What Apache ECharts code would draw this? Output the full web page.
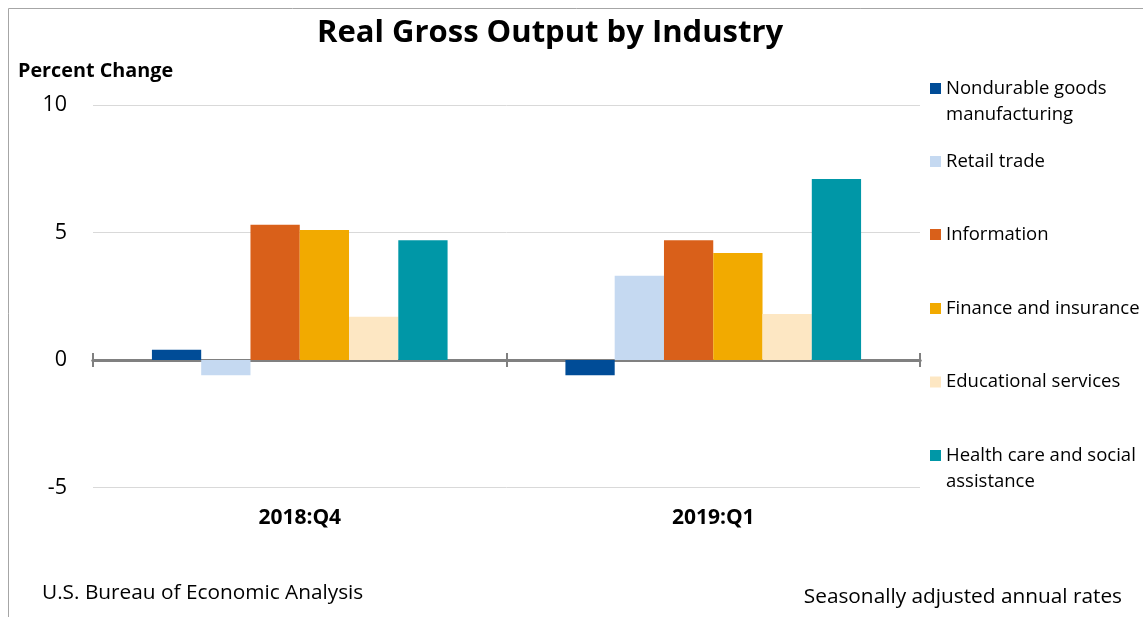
<!DOCTYPE html>
<html>
<head>
<meta charset="utf-8">
<script src="https://cdn.jsdelivr.net/npm/echarts@6/dist/echarts.min.js"></script>
<style>html,body{margin:0;padding:0;background:#fff}#c{width:1143px;height:617px}</style>
</head>
<body>
<div id="c"></div>
<script>
const categories = ['2018:Q4', '2019:Q1'];
const seriesNames = ['Nondurable goods manufacturing', 'Retail trade', 'Information', 'Finance and insurance', 'Educational services', 'Health care and social assistance'];
const legendLabels = ['Nondurable goods\nmanufacturing', 'Retail trade', 'Information', 'Finance and insurance', 'Educational services', 'Health care and social\nassistance'];
const nondurable = [0.4, -0.6];
const retail = [-0.6, 3.3];
const information = [5.3, 4.7];
const finance = [5.1, 4.2];
const educational = [1.7, 1.8];
const health = [4.7, 7.1];
const yTicks = [-5, 0, 5, 10];
const colors = ['#004C97', '#C5D9F1', '#D9601A', '#F2AA00', '#FDE7C3', '#0097A7'];
const seriesData = [nondurable, retail, information, finance, educational, health];

const FONT = 'Open Sans';
const chart = echarts.init(document.getElementById('c'));

const legendFirstLineY = [88.5, 161.5, 234.5, 308.5, 382, 455.5];
const legends = seriesNames.map((n, i) => {
  const two = legendLabels[i].indexOf('\n') >= 0;
  return {
    orient: 'vertical', left: 930, top: legendFirstLineY[i] - (two ? 39 : 13),
    padding: 0, itemWidth: 11, itemHeight: 11, icon: 'rect',
    data: [n],
    formatter: () => (two ? ' \n' : '') + legendLabels[i],
    textStyle: { fontFamily: FONT, fontSize: 18.5, color: '#000', lineHeight: 26 }
  };
});

const baseGrid = { left: 93, right: 223, top: 105, bottom: 129.5, containLabel: false };

chart.setOption({
  animation: false,
  color: colors,
  title: [
    { text: 'Real Gross Output by Industry', left: 317, top: 18, padding: 0,
      textStyle: { fontFamily: FONT, fontSize: 31, fontWeight: 'bold', color: '#000' } },
    { text: 'Percent Change', left: 18, top: 61, padding: 0,
      textStyle: { fontFamily: FONT, fontSize: 19.8, fontWeight: 'bold', color: '#000' } },
    { text: 'U.S. Bureau of Economic Analysis', left: 42, top: 583, padding: 0,
      textStyle: { fontFamily: FONT, fontSize: 20.8, fontWeight: 'normal', color: '#000' } },
    { text: 'Seasonally adjusted annual rates', right: 21, top: 587, padding: 0,
      textStyle: { fontFamily: FONT, fontSize: 20.8, fontWeight: 'normal', color: '#000' } }
  ],
  legend: legends,
  graphic: [
    { type: 'rect', shape: { x: 8.5, y: 8.5, width: 1200, height: 700 }, style: { fill: 'none', stroke: '#A6A6A6', lineWidth: 1 }, silent: true }
  ],
  grid: [Object.assign({}, baseGrid), Object.assign({}, baseGrid)],
  xAxis: [
    { type: 'category', data: categories, gridIndex: 0, position: 'bottom',
      axisLine: { onZero: true, lineStyle: { color: '#808080', width: 3 } },
      axisTick: { show: true, length: 7, lineStyle: { color: '#808080', width: 2 } },
      axisLabel: { show: false } },
    { type: 'category', data: categories, gridIndex: 1, position: 'bottom',
      axisLine: { onZero: true, lineStyle: { color: '#808080', width: 3 } },
      axisTick: { show: true, inside: true, length: 7, lineStyle: { color: '#808080', width: 2 } },
      axisLabel: { show: false } },
    { type: 'category', data: categories, gridIndex: 1, position: 'top',
      axisLine: { show: false, onZero: false }, axisTick: { show: false },
      axisLabel: { show: false } },
    { type: 'category', data: categories, gridIndex: 0, position: 'top',
      axisLine: { show: false, onZero: false }, axisTick: { show: false },
      axisLabel: { show: false } }
  ],
  yAxis: [
    { type: 'value', gridIndex: 0, min: yTicks[0], max: yTicks[yTicks.length - 1], interval: 5,
      axisLine: { show: false }, axisTick: { show: false },
      axisLabel: { fontFamily: FONT, fontSize: 21.5, color: '#000', margin: 26, padding: [4, 0, 0, 0] },
      splitLine: { lineStyle: { color: '#D9D9D9', width: 1 } } },
    { type: 'value', gridIndex: 1, min: yTicks[0], max: yTicks[yTicks.length - 1], interval: 5,
      axisLine: { show: false }, axisTick: { show: false },
      axisLabel: { show: false }, splitLine: { show: false } }
  ],
  series: seriesNames.map((n, i) => ({
    name: n, type: 'bar', data: seriesData[i], xAxisIndex: 0, yAxisIndex: 0,
    barGap: '0%', barCategoryGap: '28.5%',
    itemStyle: { color: colors[i] }
  }))
});

// category labels on a line-less axis fixed at the grid bottom
chart.setOption({
  xAxis: [{}, {}, {}, {}, { type: 'category', data: categories, gridIndex: 1, position: 'bottom', offset: 0,
    axisLine: { show: false, onZero: false }, axisTick: { show: false },
    axisLabel: { fontFamily: FONT, fontSize: 21, fontWeight: 'bold', color: '#000', margin: 20 } }]
});
</script>
</body>
</html>
